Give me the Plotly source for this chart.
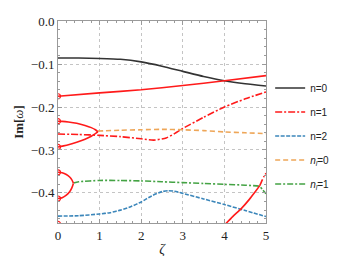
import plotly.graph_objects as go

# ---- data ----
zeta_n0 = [0, 0.5, 1, 1.5, 2, 2.5, 3, 3.5, 4, 4.5, 5]
im_n0 = [-0.086, -0.086, -0.087, -0.089, -0.095, -0.105, -0.117, -0.129, -0.139, -0.146, -0.151]

zeta_n1_top = [0, 1, 2, 3, 4, 5]
im_n1_top = [-0.175, -0.167, -0.160, -0.150, -0.139, -0.127]

zeta_b1 = [0, 0.1, 0.25, 0.45, 0.65, 0.8, 0.9, 0.96]
im_b1_up = [-0.233, -0.2335, -0.235, -0.238, -0.243, -0.248, -0.253, -0.258]
im_b1_lo = [-0.293, -0.291, -0.288, -0.282, -0.275, -0.268, -0.262, -0.258]

zeta_b2 = [0, 0.1, 0.2, 0.28, 0.33, 0.37]
im_b2_up = [-0.352, -0.353, -0.357, -0.363, -0.369, -0.377]
im_b2_lo = [-0.413, -0.411, -0.405, -0.397, -0.389, -0.378]

zeta_n1_dd = [0, 0.5, 1, 1.5, 2, 2.3, 2.6, 2.8, 3.0, 3.5, 4, 4.5, 5]
im_n1_dd = [-0.263, -0.264, -0.266, -0.269, -0.274, -0.277, -0.272, -0.262, -0.250, -0.224, -0.200, -0.181, -0.165]

zeta_n1_low = [3.95, 4.2, 4.4, 4.6, 4.75, 4.85]
im_n1_low = [-0.480, -0.455, -0.437, -0.415, -0.396, -0.383]
zeta_n1_end = [4.85, 4.9, 4.95, 5.0]
im_n1_end = [-0.383, -0.372, -0.362, -0.354]

zeta_n2 = [0, 0.5, 1, 1.25, 1.5, 1.75, 2, 2.25, 2.5, 2.65, 2.8, 3, 3.5, 4, 4.5, 5]
im_n2 = [-0.454, -0.453, -0.449, -0.446, -0.440, -0.432, -0.421, -0.407, -0.397, -0.395, -0.396, -0.401, -0.414, -0.427, -0.441, -0.455]

zeta_nl0 = [0.96, 1.5, 2, 2.5, 3, 3.5, 4, 4.5, 5]
im_nl0 = [-0.256, -0.254, -0.253, -0.252, -0.253, -0.255, -0.258, -0.260, -0.262]

zeta_nl1 = [0.37, 0.5, 1, 1.5, 2, 2.5, 3, 3.5, 4, 4.5, 4.85, 4.92, 5]
im_nl1 = [-0.377, -0.374, -0.371, -0.371, -0.372, -0.374, -0.376, -0.378, -0.380, -0.382, -0.385, -0.393, -0.402]

zeta_pts = [0, 0, 0, 0, 0, 0]
im_pts = [-0.175, -0.233, -0.293, -0.352, -0.413, -0.472]

x_ticks = [0, 1, 2, 3, 4, 5]
y_ticks = [0.0, -0.1, -0.2, -0.3, -0.4]
y_ticktext = ["0.0", "−0.1", "−0.2", "−0.3", "−0.4"]

BLACK = "#333333"
RED = "#ff1a1a"
BLUE = "#3b86ba"
ORANGE = "#eea658"
GREEN = "#44a344"
LW = 1.6

fig = go.Figure()

def add(x, y, color, dash, name=None, show=False, group=None):
    fig.add_trace(go.Scatter(x=x, y=y, mode="lines", line=dict(color=color, width=LW, dash=dash, shape="spline", smoothing=0.6),
                             name=name, showlegend=show, legendgroup=group))

add(zeta_n0, im_n0, BLACK, "solid", "n=0", True, "g0")
add(zeta_n1_dd, im_n1_dd, RED, "7px,2px,2px,2px", "n=1", True, "g1")
add(zeta_n2, im_n2, BLUE, "4px,1.5px", "n=2", True, "g2")
add(zeta_nl0, im_nl0, ORANGE, "5px,3px", "<i>n</i><sub><i>l</i></sub>=0", True, "g3")
add(zeta_nl1, im_nl1, GREEN, "6px,2px,2px,2px", "<i>n</i><sub><i>l</i></sub>=1", True, "g4")

add(zeta_n1_top, im_n1_top, RED, "solid")
add(zeta_b1, im_b1_up, RED, "solid")
add(zeta_b1, im_b1_lo, RED, "solid")
add(zeta_b2, im_b2_up, RED, "solid")
add(zeta_b2, im_b2_lo, RED, "solid")
add(zeta_n1_low, im_n1_low, RED, "solid")
add(zeta_n1_end, im_n1_end, RED, "7px,2px,2px,2px")

fig.add_trace(go.Scatter(x=zeta_pts, y=im_pts, mode="markers", showlegend=False, cliponaxis=True,
                         marker=dict(symbol="circle-open", size=5, color=RED, line=dict(width=1.2, color=RED))))

axis_common = dict(
    showline=True, linecolor="#9a9a9a", linewidth=1, mirror="allticks",
    ticks="inside", ticklen=4, tickcolor="#9a9a9a", tickwidth=1,
    showgrid=True, gridcolor="#c4c4c4", griddash="dot", gridwidth=1,
    zeroline=False, ticklabeloverflow="allow",
    tickfont=dict(family="Liberation Serif", size=13, color="#222"),
)

fig.update_xaxes(range=[0, 5], tickvals=x_ticks, ticktext=[str(v) for v in x_ticks],
                 minor=dict(ticks="inside", ticklen=2, dtick=0.2, tickcolor="#9a9a9a", showgrid=False),
                 title=dict(text="<i>ζ</i>", font=dict(family="Liberation Serif", size=14, color="#222"), standoff=2),
                 **axis_common)
fig.update_yaxes(range=[-0.47, 0.0002], tickvals=y_ticks, ticktext=y_ticktext,
                 minor=dict(ticks="inside", ticklen=2, dtick=0.02, tickcolor="#9a9a9a", showgrid=False),
                 title=dict(text="<b>Im[</b><i>ω</i><b>]</b>", font=dict(family="Liberation Serif", size=13, color="#222"), standoff=4),
                 **axis_common)

fig.update_layout(
    width=339, height=256,
    margin=dict(l=50, r=81, t=6, b=41),
    paper_bgcolor="white", plot_bgcolor="white",
    legend=dict(x=1.02, y=0.74, xanchor="left", yanchor="top", tracegroupgap=5,
                font=dict(family="Liberation Sans", size=10, color="#222"),
                itemwidth=30, bgcolor="rgba(0,0,0,0)"),
)

fig.write_html("out.html")
